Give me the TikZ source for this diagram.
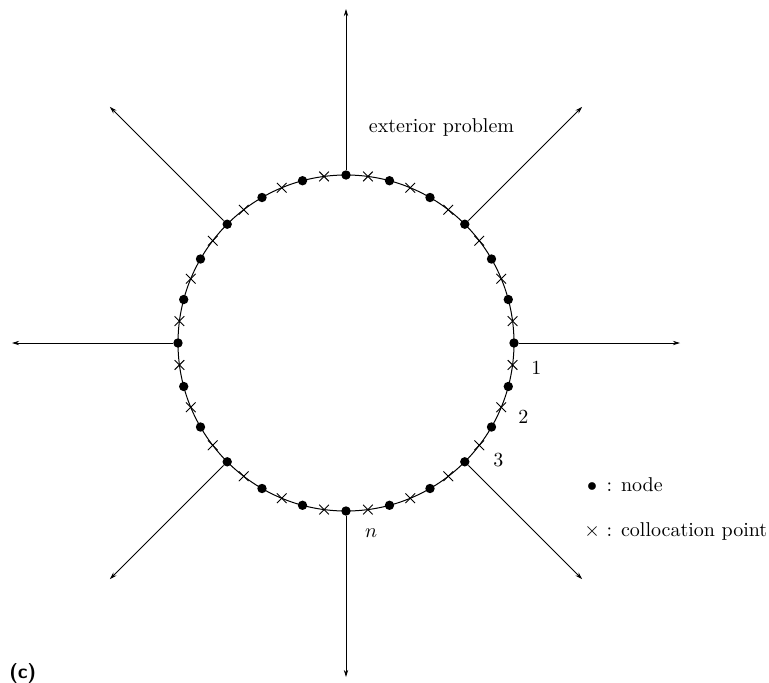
\documentclass[tikz,border=0pt]{standalone}
\usepackage{amsmath}
\usepackage{tikz}
\usetikzlibrary{positioning, arrows.meta, shapes.misc}

\tikzset{
    knot/.style={circle, fill=black, inner sep=0pt, minimum size=4.7pt},
    colpt/.style={cross out, draw=black, line width=0.45pt, inner sep=0pt, minimum size=4.4pt},
    ray/.style={-{Stealth[length=3.6pt, width=2.2pt]}, line width=0.4pt},
}

\begin{document}
\begin{tikzpicture}[x=0.5pt, y=0.5pt]
    \useasboundingbox (-346,-339) rectangle (423,343);
    \coordinate (o) at (0,0);

    % Boundary
    \draw[line width=0.5pt] (o) circle [radius=168];

    % Collocation points
    \foreach \i in {0,...,23} {
        \node[colpt] (c\i) at (\i*15+7.5:168) {};
    }

    % Nodes
    \foreach \i in {0,...,23} {
        \node[knot] (n\i) at (\i*15:168) {};
    }

    % Rays to infinity
    \foreach \i in {0,3,...,21} {
        \coordinate (e\i) at (\i*15:334);
        \draw[ray] (n\i) -- (e\i);
    }

    % Numbering
    \foreach \a/\t/\m in {-7.5/1/a, -22.5/2/b, -37.5/3/c, -82.5/$n$/d} {
        \node (num\m) at (\a:192) {\t};
    }

    \node (ext) at (95.5,216) {exterior problem};

    % Legend
    \node[anchor=west, inner sep=0pt] (legend) at (238,-166.5) {%
        \begin{tabular}{@{}c@{ : }l@{}}
            $\bullet$ & node \\[10.5pt]
            $\times$ & collocation point
        \end{tabular}};

    \node[anchor=west, inner sep=0pt, font=\sffamily\bfseries] (tag) at (-337,-330) {(c)};
\end{tikzpicture}
\end{document}
